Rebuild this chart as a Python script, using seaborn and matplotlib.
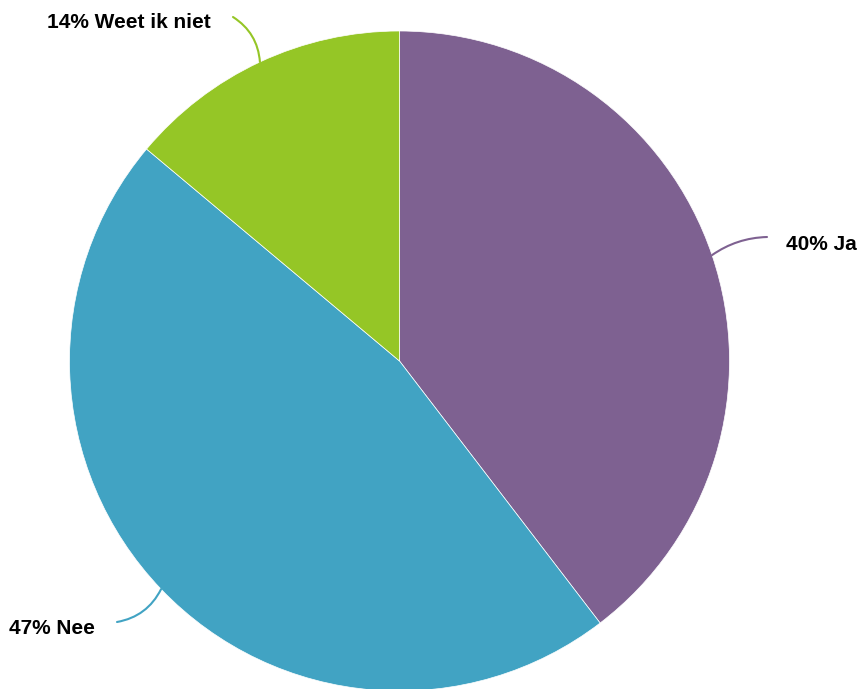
import numpy as np
import matplotlib
matplotlib.use("Agg")
import matplotlib.pyplot as plt
import seaborn as sns

# Data
categories = ["Ja", "Nee", "Weet ik niet"]
values = [39.6, 46.5, 13.9]
labels = ["40% Ja", "47% Nee", "14% Weet ik niet"]
colors = ["#7E6191", "#41A3C3", "#95C626"]

W, H = 862, 689
cx, cy, r = 399.5, H - 361, 330

sns.set_theme(style="white")
plt.rcParams["font.family"] = ["Liberation Sans", "DejaVu Sans"]

fig = plt.figure(figsize=(W / 100, H / 100), dpi=100)
ax = fig.add_axes([0, 0, 1, 1])

wedges, _ = ax.pie(values, colors=colors, startangle=90, counterclock=False,
                   center=(cx, cy), radius=r, frame=True,
                   wedgeprops=dict(edgecolor="white", linewidth=0.5))
ax.set_xlim(0, W)
ax.set_ylim(0, H)
ax.set_aspect("equal")
ax.axis("off")

# label placement: (line end x, line end y, text x, text y, ha, rad)
label_pos = {
    "Ja": (767, H - 237, 786, H - 245, "left", -0.15),
    "Nee": (117, H - 622, 95, H - 628, "right", -0.25),
    "Weet ik niet": (233, H - 17, 211, H - 22, "right", 0.25),
}

for w, cat, lab, col in zip(wedges, categories, labels, colors):
    ang = np.deg2rad((w.theta1 + w.theta2) / 2)
    px, py = cx + r * np.cos(ang), cy + r * np.sin(ang)
    ex, ey, tx, ty, ha, rad = label_pos[cat]
    ax.annotate("", xy=(ex, ey), xytext=(px, py),
                arrowprops=dict(arrowstyle="-", color=col, lw=1.5,
                                connectionstyle=f"arc3,rad={rad}",
                                shrinkA=0, shrinkB=0))
    ax.text(tx, ty, lab, ha=ha, va="center", fontsize=15,
            fontweight="bold", color="#000000")

plt.savefig("out.png", dpi=100)
